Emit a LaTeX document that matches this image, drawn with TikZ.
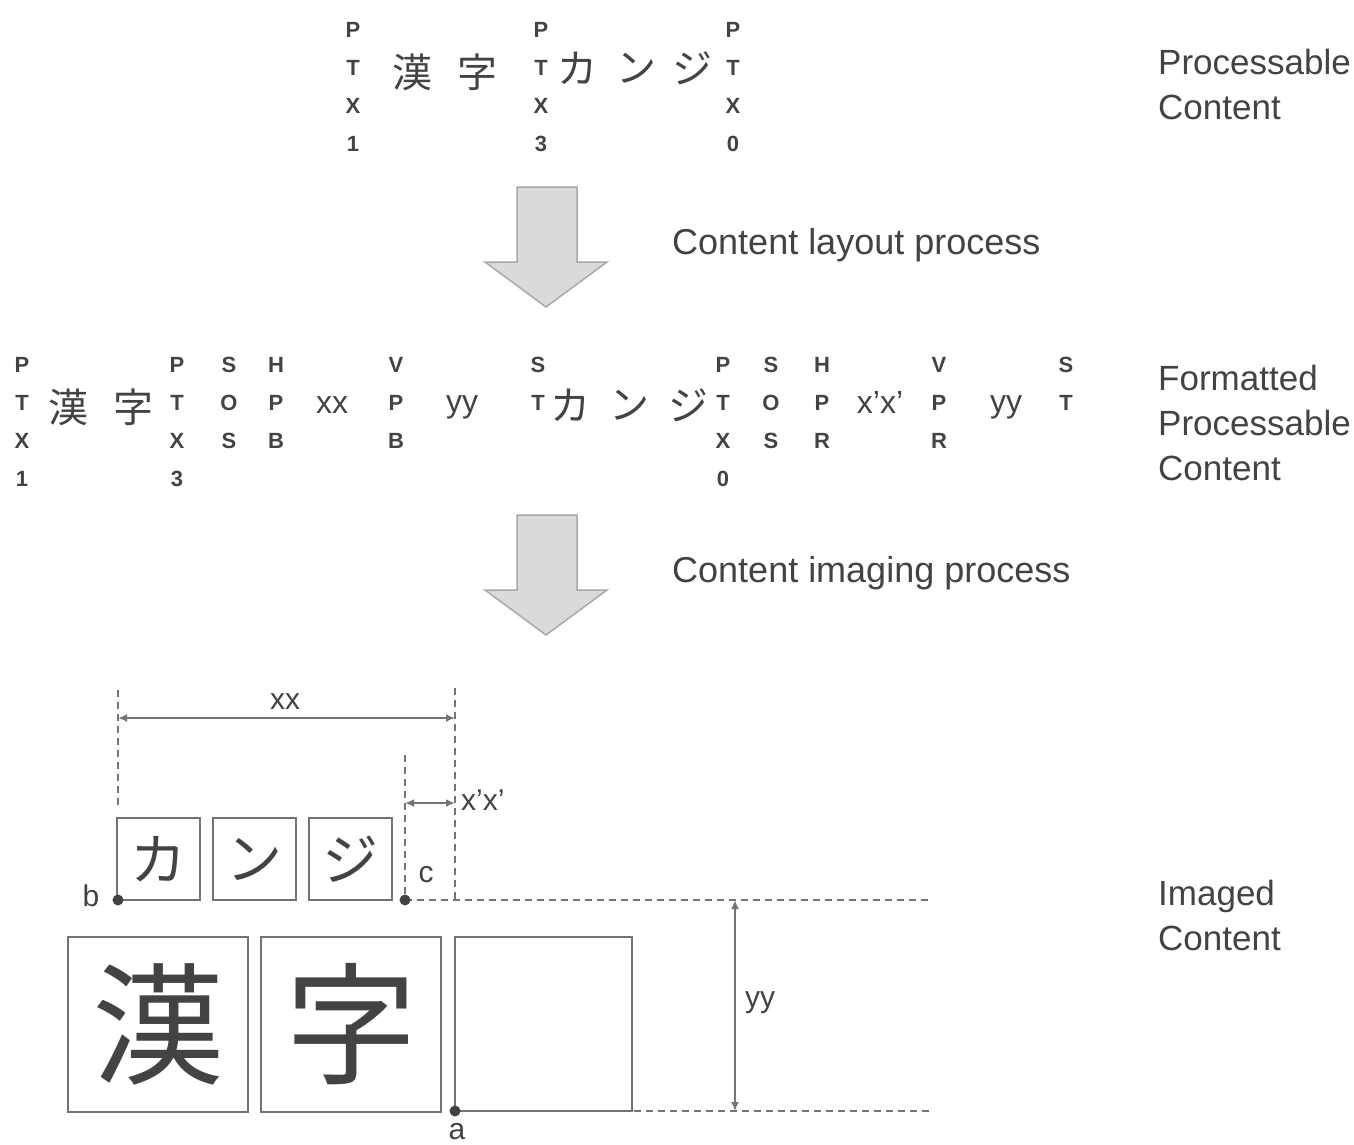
\documentclass[tikz,border=0pt]{standalone}
\usepackage{fontspec}
\setmainfont{Liberation Sans}
\newfontfamily\cjk{Noto Sans CJK JP}
\usetikzlibrary{arrows.meta}
\definecolor{txt}{HTML}{434343}
\definecolor{boxc}{HTML}{747474}
\definecolor{arrfill}{HTML}{DADADA}
\definecolor{arrline}{HTML}{A8A8A8}
\newcommand\vcol[4]{\foreach \l [count=\i] in {#4} {\node[letter] (#1-\i) at ({#2},{#3+38*(\i-1)}) {\l};}}
\begin{document}
\begin{tikzpicture}[x=1pt,y=-1pt,
  letter/.style={font=\fontsize{22}{22}\selectfont\bfseries, text=txt, inner sep=0},
  kana/.style={font=\fontsize{40}{40}\selectfont\cjk, text=txt, inner sep=0},
  label/.style={font=\fontsize{35}{45}\selectfont, text=txt, inner sep=0, align=left, anchor=north west},
  proc/.style={font=\fontsize{36}{36}\selectfont, text=txt, inner sep=0, anchor=base west},
  var/.style={font=\fontsize{32}{32}\selectfont, text=txt, inner sep=0, anchor=base},
  dim/.style={font=\fontsize{30}{30}\selectfont, text=txt, inner sep=0},
  sbox/.style={draw=boxc, line width=2pt, minimum width=83pt, minimum height=82pt, inner sep=0, font=\fontsize{56}{56}\selectfont\cjk, text=txt},
  bbox/.style={draw=boxc, line width=2pt, minimum width=180pt, minimum height=175pt, inner sep=0, font=\fontsize{132}{132}\selectfont\cjk, text=txt},
  blockarrow/.style={fill=arrfill, draw=arrline, line width=1.5pt, line join=miter},
  dashline/.style={draw=boxc, line width=1.8pt, dash pattern=on 7pt off 5pt},
  dimarrow/.style={draw=boxc, line width=1.8pt, {Latex[length=9pt,width=8pt]}-{Latex[length=9pt,width=8pt]}},
  dot/.style={circle, fill=txt, inner sep=0, minimum size=11pt}]
\useasboundingbox (0,0) rectangle (1354,1144);

% ---------- top row: processable content ----------
\vcol{ta}{353}{30}{P,T,X,1}
\node[kana] (t1) at (412,72) {漢};
\node[kana] (t2) at (477,72) {字};
\vcol{tb}{541}{30}{P,T,X,3}
\node[kana] (t3) at (577,68) {カ};
\node[kana] (t4) at (636,68) {ン};
\node[kana] (t5) at (692,68) {ジ};
\vcol{tc}{733}{30}{P,T,X,0}
\node[label] (lab1) at (1158,49) {Processable\\Content};

% ---------- arrow 1 ----------
\draw[blockarrow] (517,187) -- (577,187) -- (577,262) -- (607,262) -- (546,307) -- (485,262) -- (517,262) -- cycle;
\node[proc] (p1) at (672,254) {Content layout process};

% ---------- middle row: formatted processable content ----------
\vcol{ma}{22}{365}{P,T,X,1}
\node[kana] (m1) at (68,407) {漢};
\node[kana] (m2) at (133,407) {字};
\vcol{mb}{177}{365}{P,T,X,3}
\vcol{mc}{229}{365}{S,O,S}
\vcol{md}{276}{365}{H,P,B}
\node[var] (mxx) at (332,413) {xx};
\vcol{me}{396}{365}{V,P,B}
\node[var] (myy) at (462,412) {yy};
\vcol{mf}{538}{365}{S,T}
\node[kana] (m3) at (570,405) {カ};
\node[kana] (m4) at (629,405) {ン};
\node[kana] (m5) at (688,405) {ジ};
\vcol{mg}{723}{365}{P,T,X,0}
\vcol{mh}{771}{365}{S,O,S}
\vcol{mi}{822}{365}{H,P,R}
\node[var] (mxpx) at (880,413) {x'x'};
\vcol{mj}{939}{365}{V,P,R}
\node[var] (myy2) at (1006,412) {yy};
\vcol{mk}{1066}{365}{S,T}
\node[label] (lab2) at (1158,365) {Formatted\\Processable\\Content};

% ---------- arrow 2 ----------
\draw[blockarrow] (517,515) -- (577,515) -- (577,590) -- (607,590) -- (546,635) -- (485,590) -- (517,590) -- cycle;
\node[proc] (p2) at (672,582) {Content imaging process};

% ---------- imaged content ----------
\node[sbox] (s1) at (158.5,859) {カ};
\node[sbox] (s2) at (254,859) {ン};
\node[sbox] (s3) at (350.5,859) {ジ};
\node[bbox] (b1) at (158,1024.5) {漢};
\node[bbox] (b2) at (351,1024.5) {字};
\node[bbox, minimum width=177pt, minimum height=174pt] (b3) at (543.5,1024) {};

\coordinate (bpt) at (118,900);
\coordinate (cpt) at (405,900);
\coordinate (apt) at (455,1111);
\coordinate (xxl) at (118,718);
\coordinate (xxr) at (455,718);
\coordinate (xpl) at (405,803);
\coordinate (xpr) at (455,803);
\coordinate (yyt) at (735,900);
\coordinate (yyb) at (735,1111);
\coordinate (v1t) at (118,690);
\coordinate (v1b) at (118,810);
\coordinate (v2t) at (455,688);
\coordinate (v2b) at (455,900);
\coordinate (v3t) at (405,755);
\coordinate (h1e) at (932,900);
\coordinate (h2s) at (634,1111);
\coordinate (h2e) at (932,1111);

\draw[dashline] (v1t) -- (v1b);
\draw[dashline] (v2t) -- (v2b);
\draw[dashline] (v3t) -- (cpt);
\draw[dashline] (cpt) -- (h1e);
\draw[dashline] (h2s) -- (h2e);
\draw[boxc, line width=2pt] (bpt) -- (s1.south west);

\draw[dimarrow] (xxl) -- (xxr);
\draw[dimarrow] (xpl) -- (xpr);
\draw[dimarrow] (yyt) -- (yyb);

\node[dot] (db) at (bpt) {};
\node[dot] (dc) at (cpt) {};
\node[dot] (da) at (apt) {};

\node[dim] (lxx) at (285,702) {xx};
\node[dim, anchor=west] (lxp) at (461,800) {x'x'};
\node[dim] (lc) at (426,875) {c};
\node[dim] (lb) at (91,896) {b};
\node[dim] (la) at (457,1132) {a};
\node[dim, anchor=west] (lyy) at (745,1003) {yy};
\node[label] (lab3) at (1158,880) {Imaged\\Content};
\end{tikzpicture}
\end{document}
